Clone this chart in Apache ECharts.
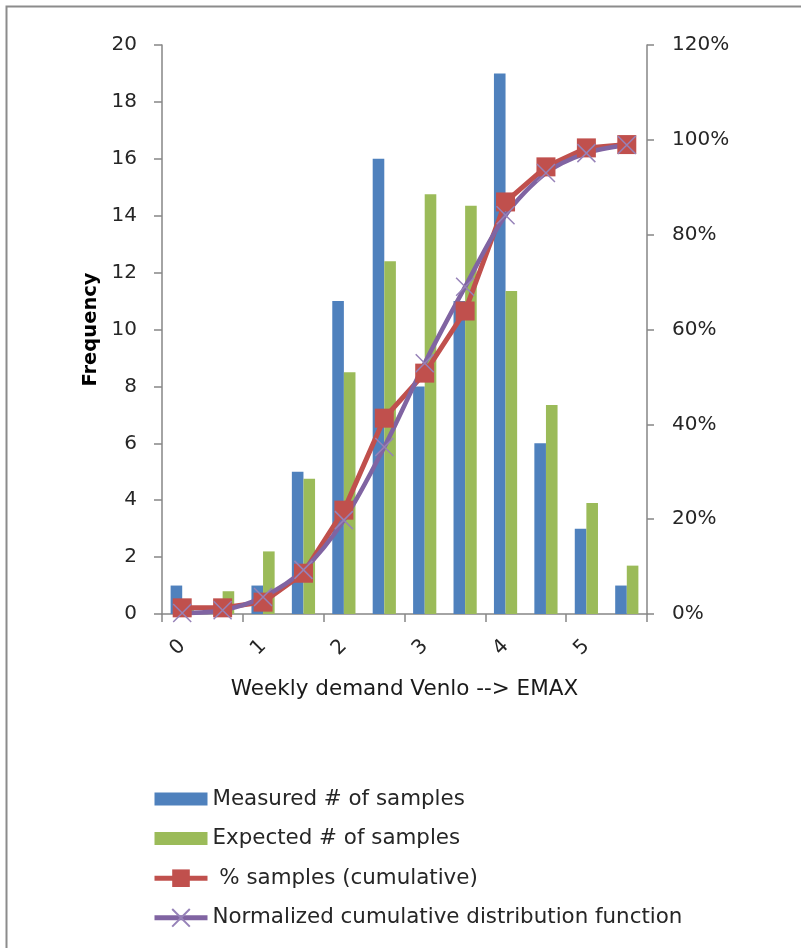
<!DOCTYPE html>
<html>
<head>
<meta charset="utf-8">
<script src="https://cdn.jsdelivr.net/npm/echarts@6/dist/echarts.min.js"></script>
<style>html,body{margin:0;padding:0;background:#fff}#c{width:801px;height:948px}</style>
</head>
<body>
<div id="c"></div>
<script>
var categories = ['0','0.5','1','1.5','2','2.5','3','3.5','4','4.5','5','5.5'];
var measured = [1, 0, 1, 5, 11, 16, 8, 11, 19, 6, 3, 1];
var expected = [0.2, 0.8, 2.2, 4.75, 8.5, 12.4, 14.75, 14.35, 11.35, 7.35, 3.9, 1.7];
var cumPct = [0.013, 0.013, 0.025, 0.086, 0.219, 0.413, 0.508, 0.639, 0.869, 0.943, 0.983, 0.99];
var normCdf = [0.002, 0.008, 0.036, 0.093, 0.198, 0.352, 0.529, 0.690, 0.841, 0.930, 0.972, 0.989];
var leftTicks = {min: 0, max: 20, interval: 2};
var rightTicks = {min: 0, max: 1.2, interval: 0.2};
var seriesNames = ['Measured # of samples', 'Expected # of samples', ' % samples (cumulative)', 'Normalized cumulative distribution function'];

var FONT = "'DejaVu Sans', Verdana, sans-serif";
var axisGray = '#868686';
var textCol = '#262626';
var crossPath = 'path://M0,0L10,10M0,10L10,0';
var rectIcon = 'path://M0,0h53v13h-53z';

var chart = echarts.init(document.getElementById('c'), null, {renderer: 'canvas'});
chart.setOption({
  animation: false,
  backgroundColor: '#fff',
  textStyle: {fontFamily: FONT},
  graphic: [{
    type: 'rect', left: 4, top: 4, silent: true,
    shape: {x: 0, y: 0, width: 1000, height: 1200},
    style: {fill: 'none', stroke: '#8c8c8c', lineWidth: 2}
  }],
  grid: {left: 162, right: 154, top: 45, bottom: 334, containLabel: false},
  legend: {
    orient: 'vertical', left: 152, top: 788, padding: 0,
    itemWidth: 53, itemHeight: 22, itemGap: 17.6, symbolKeepAspect: true,
    lineStyle: {width: 5},
    textStyle: {fontFamily: FONT, fontSize: 21.4, color: textCol, lineHeight: 22},
    data: [
      {name: seriesNames[0], icon: rectIcon},
      {name: seriesNames[1], icon: rectIcon},
      {name: seriesNames[2]},
      {name: seriesNames[3]}
    ]
  },
  xAxis: {
    type: 'category', data: categories,
    name: 'Weekly demand Venlo --> EMAX', nameLocation: 'middle', nameGap: 64,
    nameTextStyle: {fontFamily: FONT, fontSize: 21.5, color: '#1a1a1a'},
    axisLine: {lineStyle: {color: axisGray, width: 1.5}},
    axisTick: {show: true, interval: 1, length: 8, lineStyle: {color: axisGray, width: 1.5}},
    axisLabel: {interval: 1, rotate: 45, margin: 29, fontFamily: FONT, fontSize: 20, color: textCol},
    splitLine: {show: false}
  },
  yAxis: [{
    type: 'value', min: leftTicks.min, max: leftTicks.max, interval: leftTicks.interval,
    name: 'Frequency', nameLocation: 'middle', nameRotate: 90, nameGap: 59,
    nameTextStyle: {fontFamily: FONT, fontSize: 19.5, fontWeight: 'bold', color: '#000'},
    axisLine: {show: true, lineStyle: {color: axisGray, width: 1.5}},
    axisTick: {show: true, length: 8, lineStyle: {color: axisGray, width: 1.5}},
    axisLabel: {margin: 25, fontFamily: FONT, fontSize: 20, color: textCol},
    splitLine: {show: false}
  }, {
    type: 'value', position: 'right', min: rightTicks.min, max: rightTicks.max, interval: rightTicks.interval,
    axisLine: {show: true, lineStyle: {color: axisGray, width: 1.5}},
    axisTick: {show: true, length: 7, lineStyle: {color: axisGray, width: 1.5}},
    axisLabel: {margin: 25, fontFamily: FONT, fontSize: 20, color: textCol,
      formatter: function (v) { return Math.round(v * 100) + '%'; }},
    splitLine: {show: false}
  }],
  series: [{
    name: seriesNames[0], type: 'bar', data: measured, yAxisIndex: 0,
    barWidth: 11.6, barGap: '0%',
    itemStyle: {color: '#4F81BD'}
  }, {
    name: seriesNames[1], type: 'bar', data: expected, yAxisIndex: 0,
    barWidth: 11.6, barGap: '0%',
    itemStyle: {color: '#9BBB59'}
  }, {
    name: seriesNames[2], type: 'line', data: cumPct, yAxisIndex: 1,
    symbol: 'rect', symbolSize: 19, showAllSymbol: true,
    lineStyle: {color: '#C0504D', width: 5},
    itemStyle: {color: '#C0504D', borderWidth: 0}
  }, {
    name: seriesNames[3], type: 'line', data: normCdf, yAxisIndex: 1, smooth: 0.3,
    symbol: crossPath, symbolSize: 18, showAllSymbol: true,
    lineStyle: {color: '#8064A2', width: 4.5},
    itemStyle: {color: '#8064A2', borderColor: '#9682B8', borderWidth: 1.5}
  }]
});
</script>
</body>
</html>
